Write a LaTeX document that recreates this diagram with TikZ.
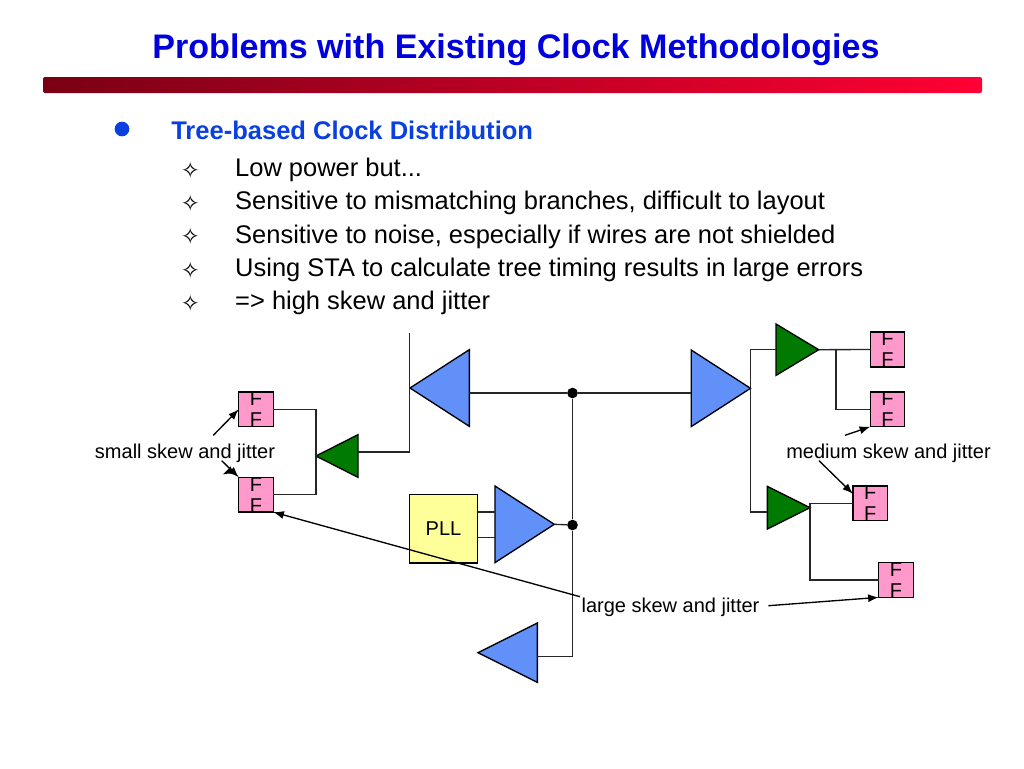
\documentclass[tikz,border=0pt]{standalone}
\usepackage{fontspec}
\setmainfont{Liberation Sans}
\newfontfamily\symfont{DejaVu Sans}
\usepackage{xcolor}
\usetikzlibrary{matrix,calc,shapes.geometric,arrows.meta}
\definecolor{titleblue}{HTML}{0000DD}
\definecolor{headblue}{HTML}{0A3FE0}
\definecolor{bufblue}{HTML}{6090F8}
\definecolor{bufgreen}{HTML}{007A00}
\definecolor{ffpink}{HTML}{FF99CC}
\definecolor{pllyellow}{HTML}{FFFF99}
\definecolor{barleft}{HTML}{7A0014}
\definecolor{barright}{HTML}{FF0033}
\tikzset{
    wire/.style={line width=1pt,draw=black!85},
    pointer/.style={line width=1pt,-{Latex[length=8pt,width=6pt]}},
    buf/.style={draw,isosceles triangle,isosceles triangle stretches,inner sep=0pt,outer sep=0pt,anchor=apex,line width=1pt},
    big/.style={buf,fill=bufblue,minimum width=57.5pt,minimum height=44.5pt},
    small/.style={buf,fill=bufgreen,minimum width=32pt,minimum height=32pt},
    ff/.style={draw,fill=ffpink,minimum width=25.8pt,minimum height=25.8pt,inner sep=0pt,outer sep=0pt,line width=1pt,align=center,font=\fontsize{15}{15.75}\selectfont},
    note/.style={font=\fontsize{15}{18}\selectfont,inner sep=0pt},
    dot/.style={circle,fill=black,inner sep=0pt,minimum size=8pt}
}

\begin{document}
\begin{tikzpicture}[x=0.75pt,y=-0.75pt]
    \useasboundingbox (0,0) rectangle (1024,768);

    \node[font=\fontsize{25.56}{30}\selectfont\bfseries,text=titleblue] (title) at (516,50) {Problems with Existing Clock Methodologies};
    \shade[left color=barleft,right color=barright,rounded corners=1.5pt] (43,77) rectangle (982,93);

    \node[circle,fill=headblue,inner sep=0pt,minimum size=11pt] (bullet) at (122,129) {};
    \node[anchor=west,inner sep=0pt,font=\fontsize{19.15}{22}\selectfont\bfseries,text=headblue] (head) at (171,130) {Tree-based Clock Distribution};

    \matrix (mList) [matrix of nodes,anchor=north west,inner sep=0pt,column sep=26.6pt,
        nodes={anchor=west,inner sep=0pt,minimum height=25pt,font=\fontsize{19.1}{22}\selectfont},
        column 1/.style={nodes={font=\symfont\fontsize{17}{20}\selectfont}}] at (180.5,153)
    {
    ✧ & Low power but... \\
    ✧ & Sensitive to mismatching branches, difficult to layout \\
    ✧ & Sensitive to noise, especially if wires are not shielded \\
    ✧ & Using STA to calculate tree timing results in large errors \\
    ✧ & => high skew and jitter \\
    };

    % left branch
    \node[ff] (ffA) at (256,409.3) {F\\F};
    \node[ff] (ffB) at (256,494.7) {F\\F};
    \node[small,fill=bufgreen,shape border rotate=180,minimum height=31.5pt] (bufL) at (316,456) {};
    \node[big,shape border rotate=180] (bufT) at (410,388) {};
    \coordinate (topEnd) at (409.7,333);
    \draw[wire] (ffA.east) -| (bufL.apex) |- (ffB.east);
    \draw[wire] (bufL.lower side |- 0,452) -| (topEnd);

    % trunk
    \node[dot] (dotT) at (572.5,393) {};
    \node[dot] (dotP) at (572.5,525) {};
    \node[big] (bufR) at (750.5,388.3) {};
    \node[big] (bufP) at (554.3,524.3) {};
    \node[big,shape border rotate=180,minimum width=44.5pt] (bufD) at (478,652.7) {};
    \node[draw,fill=pllyellow,minimum width=51pt,minimum height=51.5pt,inner sep=0pt,outer sep=0pt,line width=1pt,font=\fontsize{15}{18}\selectfont] (pll) at (443.5,528.7) {PLL};
    \draw[wire] (bufT.lower side |- dotT) -- (dotT) -- (bufR.lower side |- dotT);
    \draw[wire] (dotT) -- (dotP) |- (bufD.lower side |- 0,656.7);
    \draw[wire] (bufP.apex) -- (dotP);
    \draw[wire] (pll.east |- 0,512) -- (bufP.lower side |- 0,512);
    \draw[wire] (pll.east |- 0,537.7) -- (bufP.lower side |- 0,537.7);

    % right branch
    \node[small,minimum width=38.5pt] (bufU) at (818.7,349.7) {};
    \node[small] (bufV) at (810,507.7) {};
    \node[ff] (ffC) at (887.5,349.5) {F\\F};
    \node[ff] (ffD) at (887.5,409.3) {F\\F};
    \node[ff] (ffE) at (870.2,503.3) {F\\F};
    \node[ff] (ffF) at (896,580) {F\\F};
    \draw[wire] (bufU.lower side) -| (bufR.apex) |- (bufV.lower side |- 0,512);
    \draw[wire] (bufU.apex) -- (ffC.west);
    \coordinate (splitU) at (836,350);
    \draw[wire] (splitU) |- (ffD.west);
    \draw[wire] (bufV.apex |- ffE.west) -- (ffE.west);
    \draw[wire] (bufV.apex |- ffE.west) |- (ffF.west);

    % labels and pointers
    \node[note] (smallNote) at (185,453.5) {small skew and jitter};
    \node[note] (mediumNote) at (888.5,453.5) {medium skew and jitter};
    \node[note] (largeNote) at (670.5,607) {large skew and jitter};
    \coordinate (smallA) at (213.3,435.3);
    \coordinate (smallB) at (221.7,460.7);
    \coordinate (smallC) at (232,470);
    \coordinate (smallD) at (222.5,474.5);
    \coordinate (mediumA) at (845,435.3);
    \coordinate (mediumB) at (819,460.7);
    \coordinate (largeA) at (580,596.7);
    \coordinate (largeB) at (768.3,605.7);
    \draw[pointer] (smallA) -- (ffA.west);
    \draw[pointer] (smallB) -- (ffB.north west);
    \draw[pointer] (smallC) -- (smallD);
    \draw[pointer] (mediumA) -- (ffD.south west);
    \draw[pointer] (mediumB) -- ($(ffE.north west)+(0,8)$);
    \draw[pointer] (largeA) -- (ffB.south east);
    \draw[pointer] (largeB) -- (ffF.south west);
\end{tikzpicture}
\end{document}
